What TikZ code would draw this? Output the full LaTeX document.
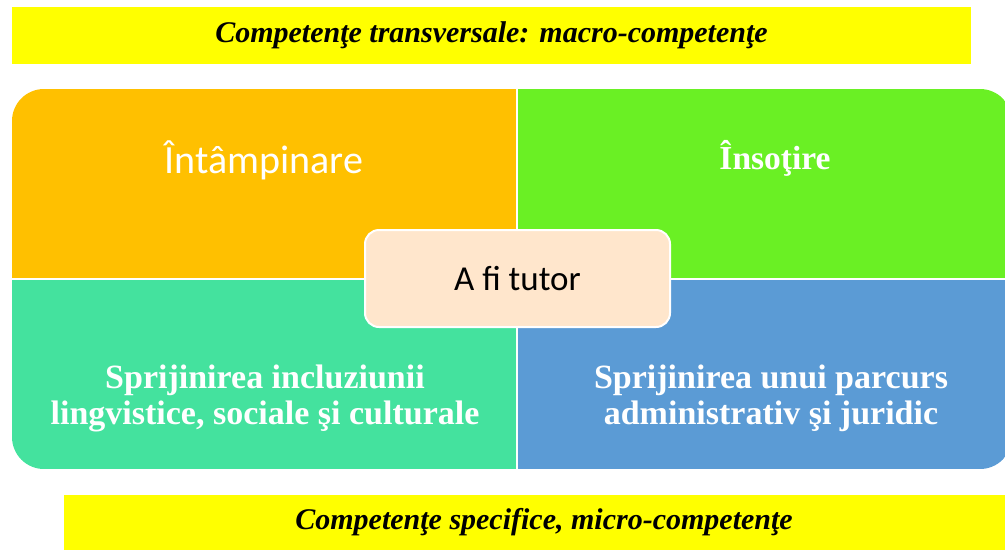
\documentclass[tikz,border=0pt]{standalone}
\usepackage{fontspec}
\setmainfont{Liberation Serif}
\newfontfamily\calibri{Carlito}
\definecolor{bannerYellow}{HTML}{FFFF00}
\definecolor{quadOrange}{HTML}{FFC000}
\definecolor{quadGreen}{HTML}{6AF024}
\definecolor{quadTeal}{HTML}{44E29E}
\definecolor{quadBlue}{HTML}{5B9BD5}
\definecolor{hubPeach}{HTML}{FFE6CC}
\begin{document}
\begin{tikzpicture}[
    x = 1pt,
    y = -1pt,
    banner/.style = {fill=bannerYellow, inner sep=0pt, outer sep=0pt,
              font=\bfseries\itshape\fontsize{30}{34}\selectfont},
    quad/.style = {draw=white, line width=2pt},
    quadtext/.style = {text=white, align=center},
    hub/.style = {rectangle, rounded corners=14pt, fill=hubPeach,
              draw=white, line width=2pt, minimum width=305pt,
              minimum height=97pt, font=\calibri\fontsize{35}{40}\selectfont},
    ]

\useasboundingbox (0,0) rectangle (1005,550);

% banners
\node[banner, minimum width=959pt, minimum height=57pt] (top_banner) at (491.5,35.5)
    {Competen\c{t}e transversale: macro-competen\c{t}e};
\node[banner, minimum width=960pt, minimum height=55pt] (bottom_banner) at (544,522.5)
    {Competen\c{t}e specifice, micro-competen\c{t}e};

% quadrants
\begin{scope}
\clip[rounded corners=32pt] (12,89) rectangle (1012,469);
\fill[quadOrange] (12,89) rectangle (517,279);
\fill[quadGreen] (517,89) rectangle (1012,279);
\fill[quadTeal] (12,279) rectangle (517,469);
\fill[quadBlue] (517,279) rectangle (1012,469);
\draw[quad] (517,89) -- (517,469);
\draw[quad] (12,279) -- (1012,279);
\end{scope}

\node[quadtext, font=\calibri\fontsize{40}{44}\selectfont] (intampinare) at (264,160) {Întâmpinare};
\node[quadtext, font=\bfseries\fontsize{33.5}{38}\selectfont] (insotire) at (775,158) {Înso\c{t}ire};
\node[quadtext, font=\bfseries\fontsize{34}{36}\selectfont] (incluziune) at (265,398)
    {Sprijinirea incluziunii\\lingvistice, sociale \c{s}i culturale};
\node[quadtext, font=\bfseries\fontsize{34}{36}\selectfont] (parcurs) at (771,398)
    {Sprijinirea unui parcurs\\administrativ \c{s}i juridic};

% centre
\node[hub] (tutor) at (517.5,278.5) {A fi tutor};

\end{tikzpicture}
\end{document}
